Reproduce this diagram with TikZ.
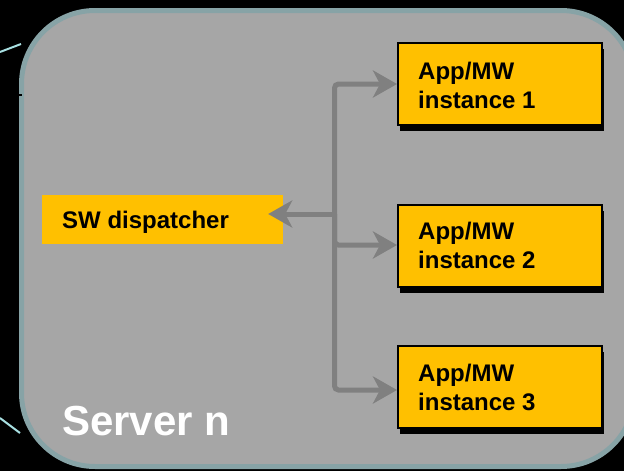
\documentclass[tikz,border=0pt]{standalone}
\usepackage{fontspec}
\setmainfont{Liberation Sans}
\usetikzlibrary{arrows.meta,shadows}
\definecolor{srvfill}{HTML}{A6A6A6}
\definecolor{srvborder}{HTML}{87A3A6}
\definecolor{amber}{HTML}{FFC000}
\definecolor{arrgray}{HTML}{808080}
\definecolor{cyanline}{HTML}{A8E0E2}
\begin{document}
\begin{tikzpicture}[x=1pt,y=-1pt,
  inst/.style={draw=black, line width=2pt, fill=amber, minimum width=204pt,
    minimum height=82pt, inner sep=0pt,
    drop shadow={shadow xshift=2pt, shadow yshift=-6pt, opacity=1, fill=black}},
  lbl/.style={inner sep=0pt, anchor=base west, text=black,
    font=\fontsize{24}{29}\selectfont\bfseries},
  disp/.style={fill=amber, minimum width=241pt, minimum height=49pt, inner sep=0pt},
  arr/.style={draw=arrgray, line width=5pt, rounded corners=4pt,
    -{Stealth[length=24pt,width=27pt,inset=7pt]}}]
\fill[black] (0,0) rectangle (624,471);
\useasboundingbox (0,0) rectangle (624,471);
\clip (0,0) rectangle (624,471);
% side lines
\draw[cyanline, line width=2pt] (0,52) -- (21,44);
\draw[cyanline, line width=2pt] (0,418) -- (20,433);
% server container
\draw[srvborder, fill=srvfill, line width=5pt, rounded corners=73.5pt]
  (21.5,10.5) rectangle (634.5,466.5);
\draw[black, line width=2pt] (18,95) -- (22,95);
% instance boxes
\node[inst] (i1) at (500,84) {};
\node[inst] (i2) at (500,246) {};
\node[inst] (i3) at (500,387) {};
\node[lbl] (t1) at (418,79) {\parbox[t]{180pt}{App/MW\\instance 1}};
\node[lbl] (t2) at (418,239) {\parbox[t]{180pt}{App/MW\\instance 2}};
\node[lbl] (t3) at (418,381) {\parbox[t]{180pt}{App/MW\\instance 3}};
% dispatcher
\node[disp] (sw) at (162.5,219.5) {};
\node[lbl] (swt) at (62,228) {SW dispatcher};
% server label
\node[lbl, text=white, font=\fontsize{42}{50}\selectfont\bfseries] (srvt) at (62,435) {Server n};
% connectors
\coordinate (j) at (334.5,214);
\coordinate (swtip) at ([xshift=-15pt]sw.east);
\draw[arr] (j) -- (swtip |- j);
\draw[arr] (j) |- (i1.west);
\draw[arr] (j) |- ([yshift=1pt]i2.west);
\draw[arr] (j) |- ([yshift=-3pt]i3.west);
\end{tikzpicture}
\end{document}
